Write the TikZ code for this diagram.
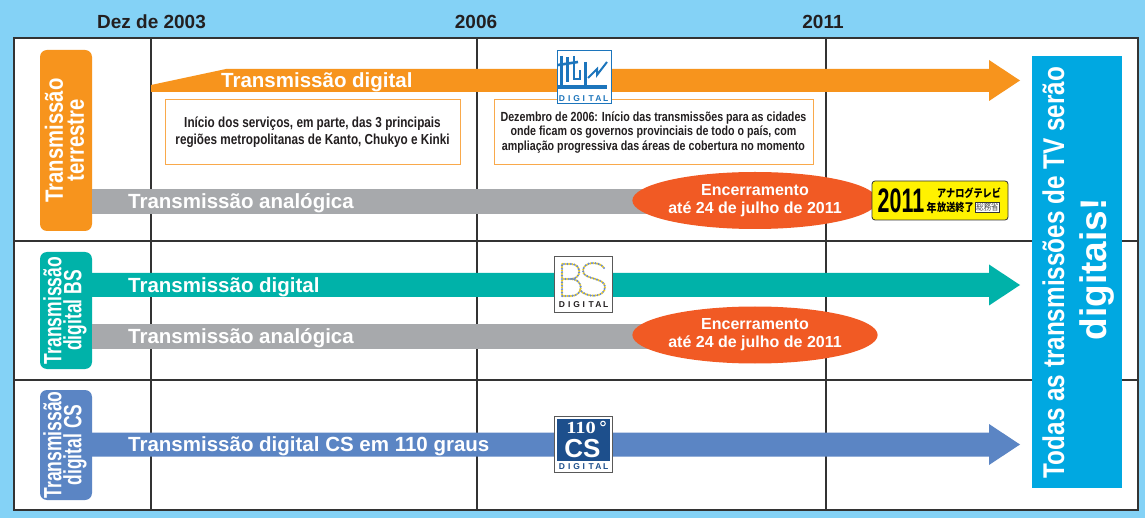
\documentclass[tikz,border=0pt]{standalone}
\usepackage{fontspec}
\setmainfont{Liberation Sans}
\newfontfamily\condfont[FakeStretch=0.81]{Liberation Sans}
\newfontfamily\narrowfont[FakeStretch=0.7]{Liberation Sans}
\newfontfamily\badgefont[FakeStretch=0.63]{Liberation Sans}
\newfontfamily\wideserif[FakeStretch=1.2]{Liberation Serif}
\newfontfamily\jpfont[FakeStretch=0.83]{Noto Sans CJK JP}
\usepackage{tikz}
\usetikzlibrary{shapes,arrows,positioning}

\definecolor{skyback}{HTML}{84D2F6}
\definecolor{gridline}{HTML}{333333}
\definecolor{darktext}{HTML}{231F20}
\definecolor{terrorange}{HTML}{F7941D}
\definecolor{boxorange}{HTML}{F9A94B}
\definecolor{analoggray}{HTML}{A7A9AC}
\definecolor{endred}{HTML}{F15A24}
\definecolor{bsteal}{HTML}{00B2A9}
\definecolor{csblue}{HTML}{5B85C4}
\definecolor{panelblue}{HTML}{00A8E1}
\definecolor{logoblue}{HTML}{1C75BC}
\definecolor{csnavy}{HTML}{1D4F8C}
\definecolor{badgeyellow}{HTML}{FFF200}
\definecolor{bsdotblue}{HTML}{6E8CC6}
\definecolor{bsdotyellow}{HTML}{F0CF1E}

\tikzset{
  gridrule/.style={gridline, line width=1.5pt},
  yearlabel/.style={font=\bfseries\fontsize{19}{20}\selectfont, text=darktext, inner sep=0pt, anchor=base},
  bartext/.style={font=\bfseries\fontsize{20.5}{22}\selectfont, text=white, inner sep=0pt, anchor=base west},
  sidetext/.style={rotate=90, align=center, text=white, inner sep=0pt},
  infobox/.style={draw=boxorange, line width=1pt, fill=white, align=center, text=darktext, inner sep=0pt},
  endoval/.style={ellipse, fill=endred, minimum width=224pt, minimum height=57pt, inner sep=0pt, align=center, text=white, font=\bfseries\fontsize{16}{18}\selectfont},
  logoframe/.style={fill=white, draw=#1, line width=1pt},
  tinyletter/.style={font=\bfseries\fontsize{8.5}{8.5}\selectfont, inner sep=0pt, anchor=base},
  bsdots/.style={line width=2.4pt, line cap=round, dash pattern=on 0pt off 3.4pt},
  jptext/.style={font=\jpfont\bfseries\fontsize{11}{11}\selectfont, inner sep=0pt, anchor=base west},
}

% DIGITAL under each logo: first letter x, baseline y, colour, name prefix
\newcommand\digitalword[4]{%
  \foreach \ltr [count=\k] in {D,I,G,I,T,A,L}
    \node[tinyletter, text=#3] (#4-\k) at ({#1+(\k-1)*7.3},#2) {\ltr};
}

\begin{document}
\begin{tikzpicture}[x=1pt,y=-1pt]
\useasboundingbox (0,0) rectangle (1145,518);
% Background and table
\fill[skyback] (0,0) rectangle (1145,518);
\draw[gridrule, fill=white] (14,38) rectangle (1138,510);
\foreach \yy in {241,380} \draw[gridrule] (14,\yy) -- (1138,\yy);
\foreach \xx in {151,477,826} \draw[gridrule] (\xx,38) -- (\xx,510);
% Years
\node[yearlabel] (y2003) at (151.5,29) {Dez de 2003};
\node[yearlabel] (y2006) at (476,29) {2006};
\node[yearlabel] (y2011) at (823,29) {2011};

% Row 1: terrestre
\fill[terrorange, rounded corners=7pt] (40,50) rectangle (92,231);
\node[sidetext, font=\condfont\bfseries\fontsize{25}{21}\selectfont] (terr) at (64.5,140.5) {Transmissão\\terrestre};
\fill[analoggray] (92,189) rectangle (760,214);
\node[bartext] (ana1) at (128,208.5) {Transmissão analógica};
\fill[terrorange] (151,92) -- (151,85) -- (226,69) -- (989,69) -- (989,60) -- (1020,80.5) -- (989,101) -- (989,92) -- cycle;
\node[bartext] (dig1) at (221,88) {Transmissão digital};
% Info boxes
\node[infobox, minimum width=295pt, minimum height=65pt, font=\condfont\bfseries\fontsize{14.5}{17}\selectfont] (info1) at (312.5,132.5)
  {Início dos serviços, em parte, das 3 principais\\regiões metropolitanas de Kanto, Chukyo e Kinki};
\node[infobox, minimum width=319pt, minimum height=65pt, font=\condfont\bfseries\fontsize{13.2}{14.3}\selectfont] (info2) at (653.5,132.5)
  {Dezembro de 2006: Início das transmissões para as cidades\\onde ficam os governos provinciais de todo o país, com\\ampliação progressiva das áreas de cobertura no momento};
\node[endoval] (end1) at (755,200.5) {Encerramento\\até 24 de julho de 2011};

% Row 2: BS
\fill[bsteal, rounded corners=7pt] (40,252) rectangle (92,369);
\node[sidetext, font=\narrowfont\bfseries\fontsize{25}{20}\selectfont] (bs) at (65,310.5) {Transmissão\\digital BS};
\fill[bsteal] (92,273) -- (989,273) -- (989,264.5) -- (1020,285) -- (989,305.5) -- (989,297) -- (92,297) -- cycle;
\node[bartext] (dig2) at (128,292.3) {Transmissão digital};
\fill[analoggray] (92,324) rectangle (760,349);
\node[bartext] (ana2) at (128,343.5) {Transmissão analógica};
\node[endoval] (end2) at (755,335) {Encerramento\\até 24 de julho de 2011};

% Row 3: CS
\fill[csblue, rounded corners=7pt] (40,390) rectangle (92,500);
\node[sidetext, font=\narrowfont\bfseries\fontsize{25}{20}\selectfont] (cs) at (65,445) {Transmissão\\digital CS};
\fill[csblue] (92,432.5) -- (989,432.5) -- (989,424) -- (1020,444.5) -- (989,465) -- (989,456.5) -- (92,456.5) -- cycle;
\node[bartext] (dig3) at (128,451.8) {Transmissão digital CS em 110 graus};

% Logo: terrestrial digital
\draw[logoframe=logoblue] (557,51) rectangle (611,104);
\draw[logoblue, line width=3pt] (561.5,56) -- (561.5,85);
\draw[logoblue, line width=3pt] (567.5,57) -- (567.5,82);
\draw[logoblue, line width=2.6pt] (558,65) -- (578,62);
\draw[logoblue, line width=2.8pt] (574,56) -- (574,79) -- (580,79) -- (580,70);
\draw[logoblue, line width=3.4pt] (585.5,62) -- (585.5,88);
\draw[logoblue, line width=3.4pt] (558,87) -- (607,87);
\draw[logoblue, line width=2pt] (588,78) -- (597,69) -- (597,75) -- (607,62);
\digitalword{562}{101.5}{logoblue}{t}
% Logo: BS digital
\draw[logoframe=gray!70!black] (554,257) rectangle (612,313);
\draw[bsdots, bsdotblue, preaction={draw=bsdotyellow, bsdots, dash phase=1.7pt}]
  (562,296) -- (562,264) -- (571,264) .. controls (582,264) and (582,279) .. (571,279) -- (562,279)
  (571,279) .. controls (584,279) and (584,296) .. (571,296) -- (562,296);
\draw[bsdots, bsdotblue, preaction={draw=bsdotyellow, bsdots, dash phase=1.7pt}]
  (604,268) .. controls (600,261) and (583,261) .. (583,271) .. controls (583,280) and (605,277) .. (605,287)
  .. controls (605,298) and (586,298) .. (580,290);
\digitalword{562}{308}{darktext}{b}
% Logo: 110 CS digital
\draw[logoframe=gray!70!black] (554,416) rectangle (612,472);
\fill[csnavy] (556.5,418.5) rectangle (609.5,461);
\node[font=\wideserif\bfseries\fontsize{17}{17}\selectfont, text=white, inner sep=0pt, anchor=base] (cs110) at (581,433) {110};
\draw[white, line width=1pt] (603,423.5) circle (2.3);
\node[font=\bfseries\fontsize{26}{26}\selectfont, text=white, inner sep=0pt, anchor=base] (csword) at (582.5,457) {CS};
\digitalword{562}{469.5}{csnavy}{c}

% Badge 2011
\draw[fill=badgeyellow, draw=gridline, line width=0.8pt, rounded corners=3pt] (872,181) rectangle (1008,220);
\node[font=\badgefont\bfseries\fontsize{34}{34}\selectfont, inner sep=0pt, anchor=base west] (b2011) at (877.5,213) {2011};
\node[jptext, font=\jpfont\bfseries\fontsize{12}{12}\selectfont] (bnen) at (926.5,213) {年};
\node[jptext] (bana) at (937,197.5) {アナログテレビ};
\node[jptext] (bend) at (937,211.5) {放送終了};
\node[draw=gridline, line width=0.5pt, fill=white, font=\jpfont\fontsize{9}{9}\selectfont, text=gray!60!black, inner sep=1pt] (bmic) at (987.5,207) {総務省};

% Right panel
\fill[panelblue] (1032,56) rectangle (1122,488);
\node[rotate=90, font=\condfont\bfseries\fontsize{30}{30}\selectfont, text=white, inner sep=0pt, anchor=base] (todas) at (1064,272.5) {Todas as transmissões de TV serão};
\node[rotate=90, font=\bfseries\fontsize{37}{37}\selectfont, text=white, inner sep=0pt, anchor=base] (digitais) at (1106,269.5) {digitais!};
\end{tikzpicture}
\end{document}
